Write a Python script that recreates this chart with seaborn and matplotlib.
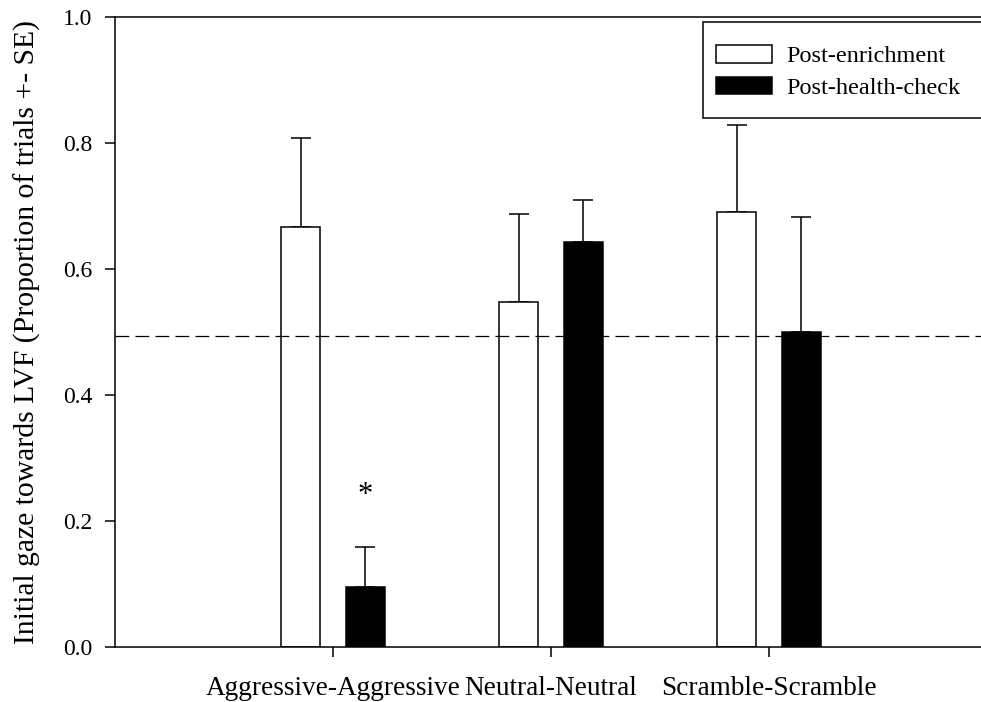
import numpy as np
import pandas as pd
import matplotlib
matplotlib.use("Agg")
import matplotlib.pyplot as plt
import seaborn as sns

# values
conditions = ['Aggressive-Aggressive', 'Neutral-Neutral', 'Scramble-Scramble']
phases = ['Post-enrichment', 'Post-health-check']
post_enrichment = [0.667, 0.547, 0.690]
post_enrichment_se = [0.141, 0.140, 0.138]
post_health = [0.096, 0.643, 0.500]
post_health_se = [0.062, 0.067, 0.182]
chance_level = 0.494
y_ticks = [0.0, 0.2, 0.4, 0.6, 0.8, 1.0]

df = pd.DataFrame({
    'Condition': conditions * 2,
    'Phase': [phases[0]] * 3 + [phases[1]] * 3,
    'Value': post_enrichment + post_health,
    'SE': post_enrichment_se + post_health_se,
})

plt.rcParams['font.family'] = ['Liberation Serif', 'DejaVu Serif']
plt.rcParams['axes.linewidth'] = 1.1

fig = plt.figure(figsize=(9.81, 7.02), dpi=100)
ax = fig.add_axes([115 / 981, 55 / 702, 872 / 981, 630 / 702])

sns.barplot(data=df, x='Condition', y='Value', hue='Phase', hue_order=phases,
            order=conditions, palette=['white', 'black'], edgecolor='black',
            linewidth=1.1, width=0.596, gap=0.385, errorbar=None, legend=False,
            ax=ax, zorder=2)

# upper-only SE bars on top of each bar
for cont, phase in zip(ax.containers, phases):
    sub = df[df['Phase'] == phase].set_index('Condition').loc[conditions]
    xs = [b.get_x() + b.get_width() / 2 for b in cont]
    ax.errorbar(xs, sub['Value'], yerr=[np.zeros(len(xs)), sub['SE']],
                fmt='none', ecolor='black', elinewidth=1.1, capsize=7,
                capthick=1.1, zorder=1)

ax.axhline(chance_level, color='black', lw=0.9, ls=(0, (11, 5)), zorder=3)

# significance marker above the aggressive post-health-check bar
b = ax.containers[1][0]
ax.text(b.get_x() + b.get_width() / 2, 0.24, '*', ha='center', va='center',
        fontsize=22)

ax.set_xlim(-1, 3)
ax.set_ylim(0, 1.0)
ax.set_yticks(y_ticks)
ax.set_yticklabels([f'{t:.1f}' for t in y_ticks])
ax.set_xlabel('')
ax.set_ylabel('Initial gaze towards LVF (Proportion of trials +- SE)', fontsize=21.3, labelpad=16)
ax.tick_params(axis='both', direction='out', length=7, width=1.1, pad=9)
ax.tick_params(axis='y', labelsize=17)
ax.tick_params(axis='x', labelsize=19.6, pad=14)
ax.spines['right'].set_visible(False)

# legend box: frame drawn separately so it runs off the right edge like the original
frame = plt.Rectangle((0.674, 0.8397), 0.4, 0.1523, transform=ax.transAxes,
                      facecolor='white', edgecolor='black', lw=1.1,
                      clip_on=False, zorder=4)
ax.add_patch(frame)
handles = [plt.Rectangle((0, 0), 1, 1, facecolor='white', edgecolor='black', lw=1.1),
           plt.Rectangle((0, 0), 1, 1, facecolor='black', edgecolor='black', lw=1.1)]
leg = ax.legend(handles, phases, loc='upper left', bbox_to_anchor=(0.689, 0.9555),
                borderaxespad=0, borderpad=0, fontsize=17.5, frameon=False,
                handlelength=2.3, handleheight=0.75, handletextpad=0.6, labelspacing=0.38)
leg.set_zorder(5)

fig.savefig('out.png', dpi=100)
